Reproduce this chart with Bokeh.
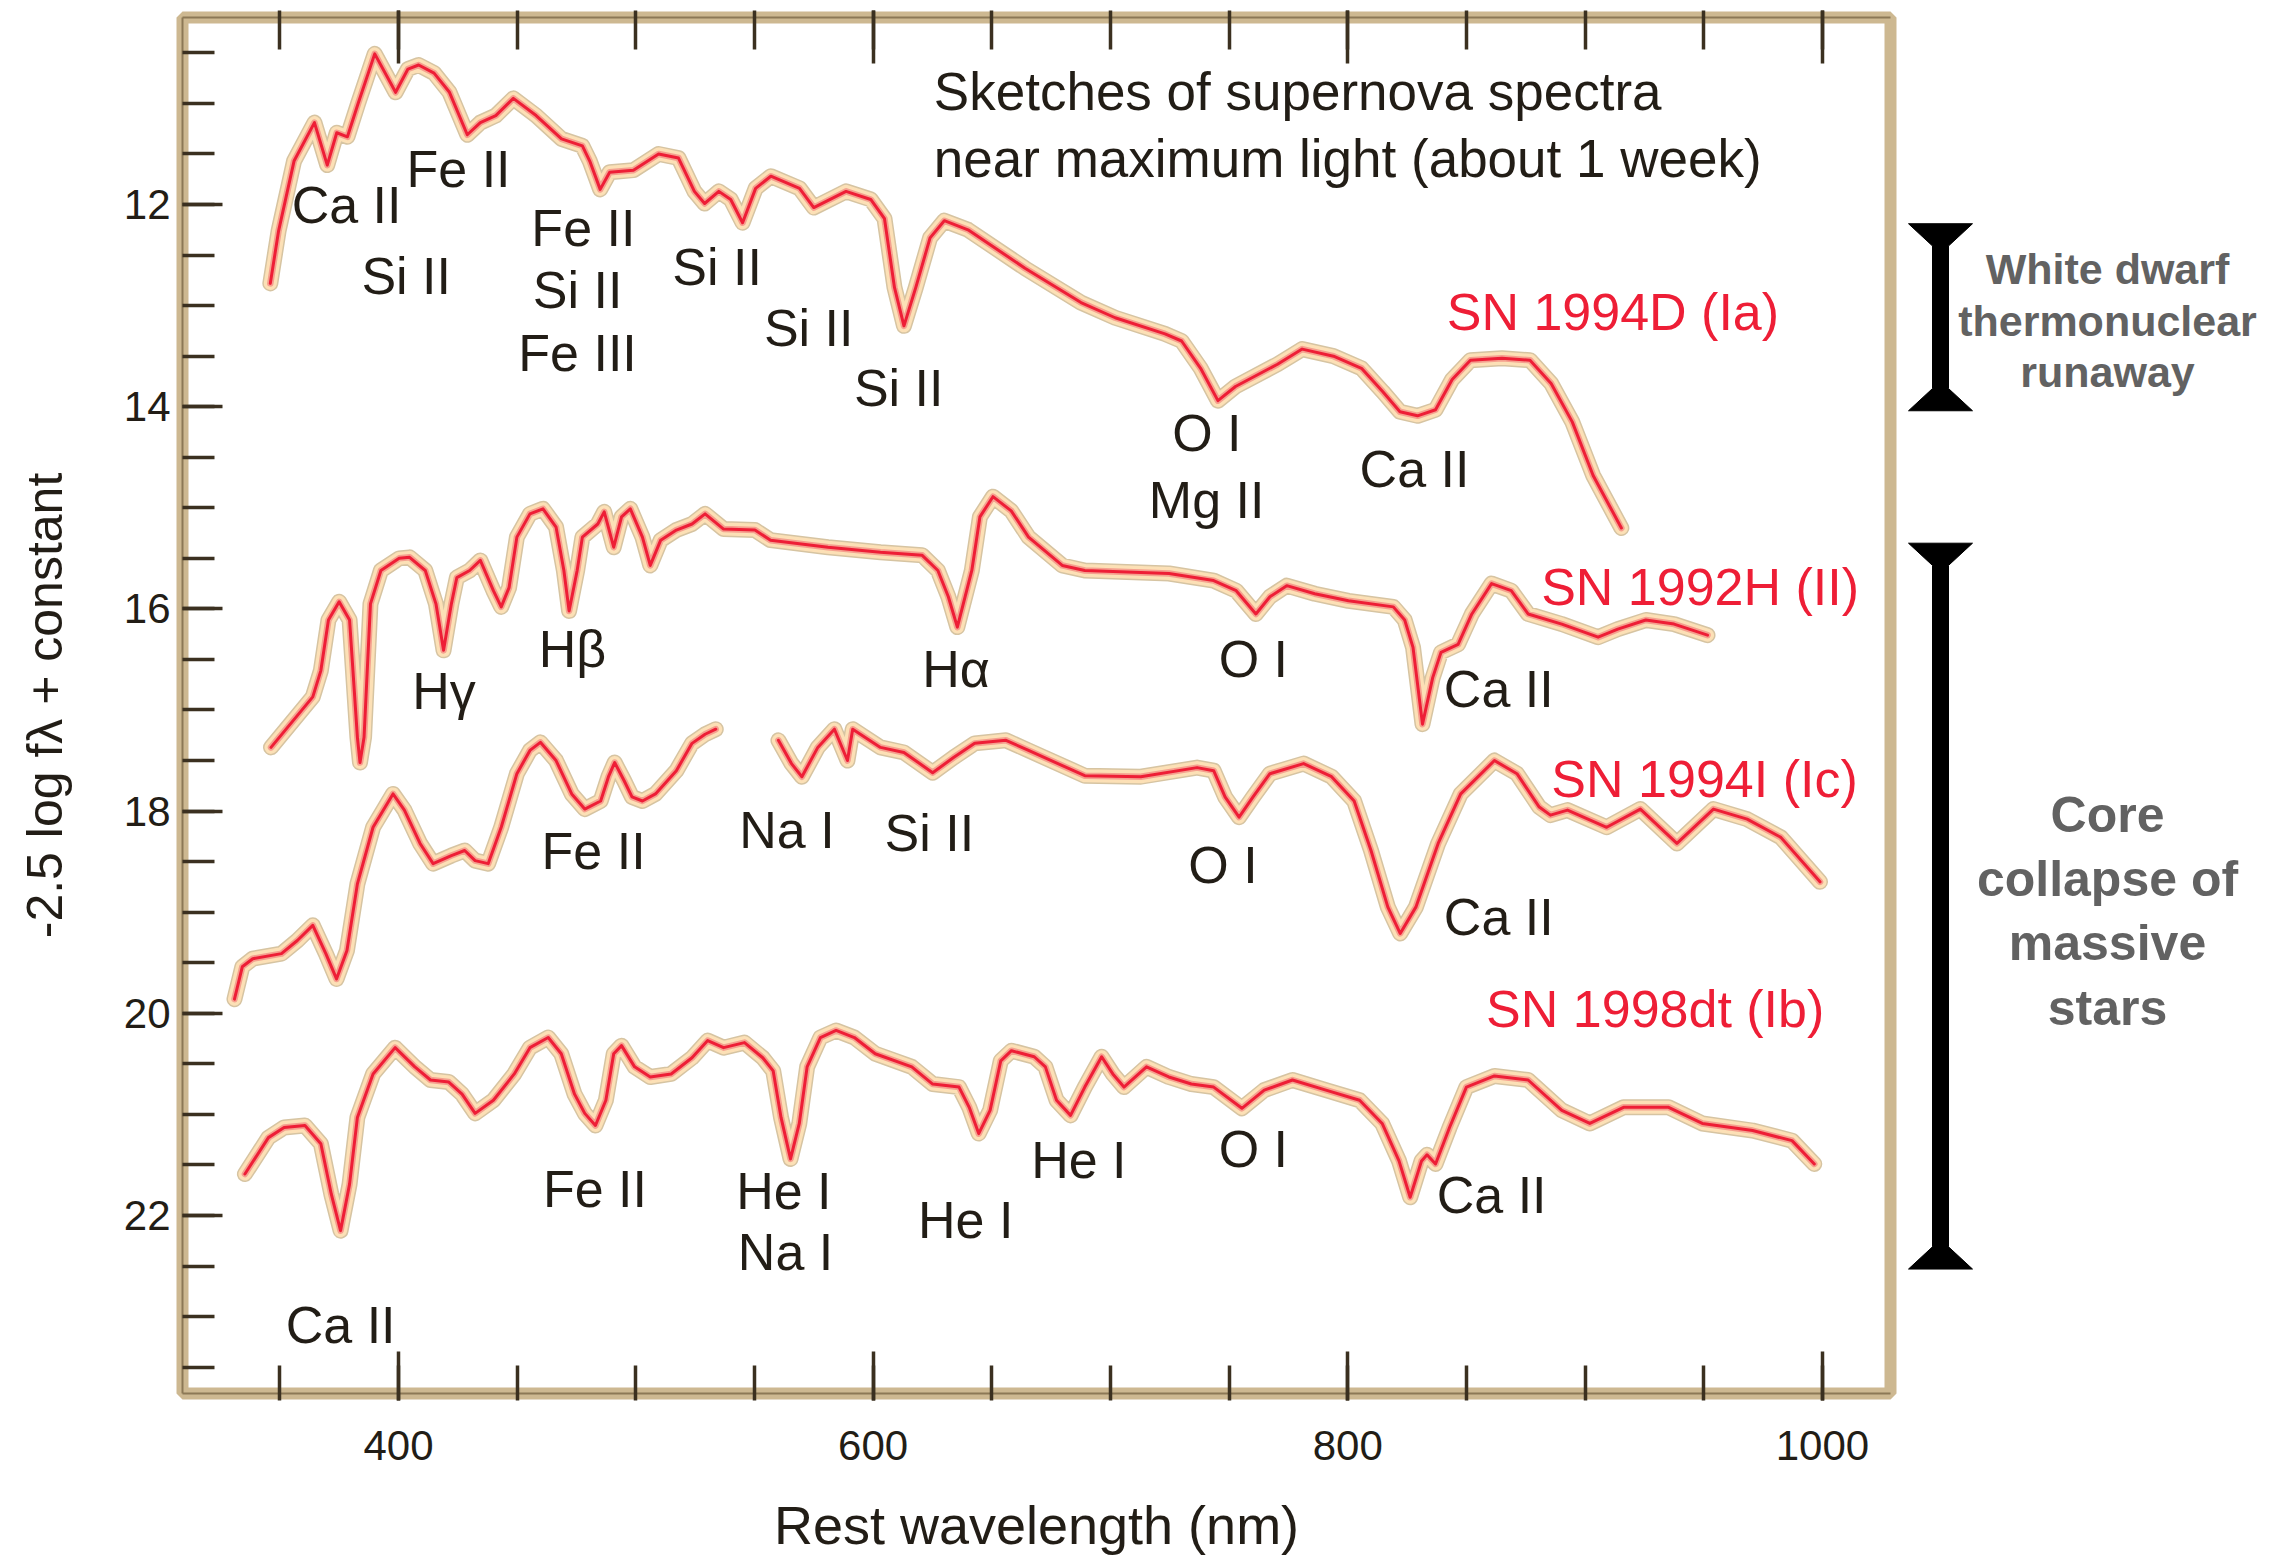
from bokeh.plotting import figure
from bokeh.models import Range1d, LinearAxis, FixedTicker
from bokeh.layouts import row
from bokeh.embed import file_html
from bokeh.resources import INLINE
from bokeh.core.properties import value

NAN = float("nan")

# ---------------- data ----------------
wl_1994D = [346.0, 349.5, 356.0, 364.6, 370.0, 374.0, 378.5, 383.0, 390.0, 398.8,
            404.0, 408.5, 415.0, 421.5, 429.0, 434.5, 441.0, 448.4, 458.0, 468.7,
            477.5, 480.6, 485.0, 489.0, 499.0, 509.6, 518.0, 524.7, 529.0, 535.0,
            540.0, 545.0, 550.5, 556.9, 569.0, 575.0, 588.6, 599.0, 604.8, 609.0,
            613.0, 618.0, 624.0, 630.0, 640.0, 664.0, 687.6, 702.0, 723.0, 730.0,
            738.0, 745.3, 752.7, 770.4, 780.8, 794.0, 805.8, 814.7, 822.0, 829.4,
            837.0, 844.0, 851.7, 865.0, 876.8, 885.7, 894.6, 903.4, 915.3]
mag_1994D = [12.78, 12.26, 11.57, 11.19, 11.61, 11.29, 11.33, 11.00, 10.51, 10.89,
             10.66, 10.62, 10.70, 10.89, 11.31, 11.19, 11.12, 10.95, 11.12, 11.35,
             11.42, 11.57, 11.85, 11.68, 11.66, 11.50, 11.54, 11.87, 11.99, 11.87,
             11.95, 12.18, 11.84, 11.72, 11.84, 12.03, 11.87, 11.95, 12.14, 12.82,
             13.20, 12.82, 12.33, 12.16, 12.25, 12.63, 12.97, 13.12, 13.28, 13.35,
             13.62, 13.94, 13.80, 13.58, 13.43, 13.50, 13.62, 13.85, 14.05, 14.09,
             14.03, 13.73, 13.54, 13.52, 13.54, 13.77, 14.15, 14.68, 15.20]

wl_1992H = [346.3, 363.9, 367.3, 370.5, 375.0, 379.4, 382.7, 383.8, 385.5, 388.2,
            392.6, 400.3, 404.7, 411.3, 415.8, 419.0, 422.3, 424.6, 430.0, 434.5,
            440.0, 443.3, 446.6, 449.9, 455.4, 460.9, 466.4, 469.7, 471.9, 475.3,
            477.5, 484.0, 486.7, 490.7, 494.0, 497.7, 502.8, 506.1, 510.5, 517.1,
            523.7, 529.2, 537.0, 550.2, 556.8, 581.0, 603.1, 620.7, 627.3, 631.7,
            635.5, 641.6, 645.0, 650.5, 658.2, 665.5, 679.7, 689.2, 724.7, 743.5,
            753.0, 761.3, 767.2, 774.3, 786.1, 800.3, 819.2, 824.0, 827.5, 831.5,
            835.8, 839.3, 846.5, 852.3, 860.6, 868.9, 876.0, 890.2, 905.5, 913.8,
            925.6, 937.5, 951.6]
mag_1992H = [17.37, 16.87, 16.61, 16.11, 15.93, 16.11, 17.27, 17.52, 17.27, 15.95,
             15.62, 15.50, 15.49, 15.62, 15.95, 16.41, 15.95, 15.69, 15.62, 15.52,
             15.82, 15.98, 15.79, 15.29, 15.06, 15.01, 15.19, 15.62, 16.02, 15.62,
             15.29, 15.16, 15.04, 15.39, 15.09, 15.01, 15.29, 15.57, 15.32, 15.22,
             15.16, 15.06, 15.21, 15.22, 15.32, 15.39, 15.44, 15.47, 15.62, 15.88,
             16.18, 15.62, 15.09, 14.89, 15.03, 15.29, 15.57, 15.62, 15.65, 15.72,
             15.82, 16.05, 15.88, 15.77, 15.85, 15.92, 15.98, 16.11, 16.38, 17.14,
             16.68, 16.43, 16.35, 16.05, 15.75, 15.82, 16.05, 16.15, 16.28, 16.20,
             16.11, 16.15, 16.26]

wl_1994I = [330.9, 334.2, 338.6, 350.7, 357.4, 363.9, 369.4, 373.9, 378.3, 382.7,
            389.3, 397.7, 402.5, 409.1, 414.6, 422.3, 427.9, 432.3, 437.8, 443.3,
            449.9, 455.4, 459.8, 466.4, 473.0, 478.5, 485.2, 488.5, 491.1, 495.1,
            498.4, 502.8, 508.3, 517.1, 523.7, 529.2, 533.7, NAN,
            560.1, 565.6, 570.0, 576.7, 583.7, 589.2, 591.4, 603.1, 613.0, 625.1,
            633.9, 642.8, 656.0, 665.5, 689.2, 712.8, 736.5, 743.5, 748.3, 754.2,
            760.1, 767.2, 781.4, 793.2, 802.7, 809.8, 816.9, 822.1, 828.7, 838.1,
            847.6, 861.8, 871.3, 880.7, 885.4, 892.6, 909.1, 923.3, 938.7, 954.1,
            968.3, 982.5, 999.0]
mag_1994I = [19.86, 19.54, 19.46, 19.41, 19.28, 19.13, 19.41, 19.66, 19.38, 18.72,
             18.16, 17.83, 17.99, 18.32, 18.52, 18.44, 18.39, 18.49, 18.52, 18.16,
             17.63, 17.40, 17.32, 17.50, 17.83, 17.98, 17.90, 17.66, 17.52, 17.70,
             17.86, 17.90, 17.83, 17.60, 17.33, 17.24, 17.19, NAN,
             17.30, 17.53, 17.66, 17.37, 17.19, 17.50, 17.19, 17.37, 17.42, 17.62,
             17.47, 17.33, 17.30, 17.40, 17.65, 17.66, 17.57, 17.60, 17.86, 18.06,
             17.86, 17.63, 17.53, 17.66, 17.90, 18.39, 18.95, 19.21, 18.95, 18.32,
             17.83, 17.50, 17.63, 17.96, 18.04, 17.99, 18.16, 17.98, 18.32, 17.98,
             18.08, 18.26, 18.70]

wl_1998dt = [335.3, 345.2, 351.8, 360.6, 367.3, 371.7, 375.6, 379.4, 382.7, 389.3,
             398.6, 406.9, 413.5, 421.2, 426.8, 432.3, 440.0, 448.8, 455.4, 463.1,
             468.6, 474.2, 478.5, 483.0, 487.4, 490.7, 494.0, 499.5, 506.1, 514.9,
             523.7, 530.3, 537.0, 545.8, 553.5, 557.9, 561.2, 565.2, 568.9, 572.2,
             577.8, 584.4, 592.1, 600.9, 616.3, 625.1, 636.2, 640.5, 644.5, 649.3,
             653.8, 658.3, 667.9, 672.6, 677.3, 683.2, 689.2, 696.3, 701.0, 705.7,
             715.2, 724.6, 734.1, 743.5, 755.4, 764.8, 776.7, 790.8, 805.0, 814.5,
             821.6, 826.3, 831.1, 833.4, 837.0, 842.9, 850.0, 861.8, 876.0, 890.2,
             902.0, 916.2, 935.2, 949.4, 970.6, 987.2, 996.6]
mag_1998dt = [21.59, 21.23, 21.13, 21.11, 21.29, 21.79, 22.15, 21.69, 21.03, 20.60,
              20.34, 20.53, 20.66, 20.68, 20.80, 20.99, 20.86, 20.60, 20.34, 20.24,
              20.40, 20.80, 20.99, 21.11, 20.86, 20.40, 20.32, 20.53, 20.63, 20.60,
              20.44, 20.27, 20.34, 20.29, 20.44, 20.57, 21.03, 21.44, 21.09, 20.53,
              20.24, 20.17, 20.24, 20.40, 20.53, 20.70, 20.73, 20.93, 21.19, 20.96,
              20.47, 20.37, 20.43, 20.53, 20.86, 21.01, 20.73, 20.43, 20.60, 20.73,
              20.53, 20.63, 20.70, 20.73, 20.94, 20.76, 20.66, 20.76, 20.86, 21.09,
              21.46, 21.82, 21.46, 21.40, 21.49, 21.13, 20.73, 20.62, 20.66, 20.96,
              21.09, 20.93, 20.93, 21.09, 21.16, 21.26, 21.49]

# spectral-line annotations: text, wavelength (left edge), magnitude (centre)
ion_text = ["Ca II", "Fe II", "Si II", "Fe II", "Si II", "Fe III", "Si II", "Si II", "Si II",
            "O I", "Mg II", "Ca II",
            "H\u03b3", "H\u03b2", "H\u03b1", "O I", "Ca II",
            "Fe II", "Na I", "Si II", "O I", "Ca II",
            "Fe II", "He I", "Na I", "He I", "He I", "O I", "Ca II", "Ca II"]
ion_x = [355.0, 403.4, 384.4, 456.0, 456.6, 450.5, 515.4, 554.0, 591.9,
         726.0, 716.2, 805.0,
         405.8, 459.1, 620.7, 745.6, 840.5,
         460.3, 543.6, 604.8, 732.8, 840.5,
         460.9, 542.3, 543.0, 618.9, 666.6, 745.6, 837.5, 352.5]
ion_y = [12.00, 11.65, 12.71, 12.23, 12.85, 13.47, 12.62, 13.22, 13.81,
         14.26, 14.92, 14.62,
         16.81, 16.40, 16.59, 16.50, 16.79,
         18.39, 18.19, 18.22, 18.53, 19.05,
         21.74, 21.76, 22.36, 22.04, 21.45, 21.34, 21.80, 23.08]

sn_names = ["SN 1994D (Ia)", "SN 1992H (II)", "SN 1994I (Ic)", "SN 1998dt (Ib)"]
sn_x = [841.7, 881.5, 885.8, 858.3]
sn_y = [13.06, 15.78, 17.68, 19.96]

title_lines = ["Sketches of supernova spectra", "near maximum light (about 1 week)"]
title_x = [625.6, 625.6]
title_y = [10.88, 11.54]

x_major = [400, 600, 800, 1000]
x_minor = [350, 400, 450, 500, 550, 600, 650, 700, 750, 800, 850, 900, 950, 1000]
y_major = [12, 14, 16, 18, 20, 22]
y_minor = [10.5, 11, 11.5, 12, 12.5, 13, 13.5, 14, 14.5, 15, 15.5, 16, 16.5, 17,
           17.5, 18, 18.5, 19, 19.5, 20, 20.5, 21, 21.5, 22, 22.5, 23, 23.5]

group_text = ["White dwarf\nthermonuclear\nrunaway", "Core\ncollapse of\nmassive\nstars"]
group_top = [12.19, 15.35]
group_bottom = [14.04, 22.53]
group_text_y = [13.15, 18.99]

# ---------------- styles ----------------
SANS = "Liberation Sans"
INK = "#221d16"
TAN = "#cdb891"
TAN_DARK = "#8c7856"
TICK = "#3b3020"
RED = "#ee1e36"

y_rng = Range1d(23.761, 10.150)

p = figure(width=1900, height=1559,
           x_range=Range1d(309.0, 1028.7), y_range=y_rng,
           output_backend="svg", toolbar_location=None,
           min_border_left=182, min_border_right=10,
           min_border_top=17, min_border_bottom=166)
p.xgrid.visible = False
p.ygrid.visible = False
p.background_fill_color = "white"
p.border_fill_color = "white"
p.outline_line_color = TAN
p.outline_line_width = 12

xt = FixedTicker(ticks=x_major, minor_ticks=x_minor)
yt = FixedTicker(ticks=y_major, minor_ticks=y_minor)


def style_axis(ax, major_in, minor_in, out):
    ax.axis_line_color = TAN_DARK
    ax.axis_line_width = 2
    ax.major_tick_in = major_in
    ax.minor_tick_in = minor_in
    ax.major_tick_out = out
    ax.minor_tick_out = out
    ax.major_tick_line_color = TICK
    ax.minor_tick_line_color = TICK
    ax.major_tick_line_width = 3.5
    ax.minor_tick_line_width = 3.5
    ax.major_label_text_font = SANS
    ax.major_label_text_font_size = "42px"
    ax.major_label_text_color = INK
    ax.axis_label_text_font = SANS
    ax.axis_label_text_font_style = "normal"
    ax.axis_label_text_color = INK


xb = p.xaxis[0]
xb.ticker = xt
style_axis(xb, 42, 28, 7)
xb.major_label_standoff = 30
xb.axis_label = "Rest wavelength (nm)"
xb.axis_label_text_font_size = "54px"
xb.axis_label_standoff = 32

yl = p.yaxis[0]
yl.ticker = yt
style_axis(yl, 40, 32, 0)
yl.major_label_standoff = 12
yl.axis_label = "-2.5 log f\u03bb + constant"
yl.axis_label_text_font_size = "50px"
yl.axis_label_standoff = 48

xtop = LinearAxis(ticker=xt)
style_axis(xtop, 46, 32, 7)
xtop.major_label_text_color = None
xtop.major_label_text_font_size = "0px"
xtop.major_label_standoff = 0
p.add_layout(xtop, "above")

# spectra with a beige glow
for wl, mg in [(wl_1994D, mag_1994D), (wl_1992H, mag_1992H),
               (wl_1994I, mag_1994I), (wl_1998dt, mag_1998dt)]:
    for col, w in [("#d6c4a2", 16), ("#fce0b6", 13), ("#f5a08f", 6.5), (RED, 3)]:
        p.line(wl, mg, line_color=col, line_width=w, line_join="round", line_cap="round")

p.text(x=ion_x, y=ion_y, text=ion_text, text_font=value(SANS), text_font_size="52px",
       text_color=INK, text_align="left", text_baseline="middle")
p.text(x=sn_x, y=sn_y, text=sn_names, text_font=value(SANS), text_font_size="52px",
       text_color=RED, text_align="left", text_baseline="middle")
p.text(x=title_x, y=title_y, text=title_lines, text_font=value(SANS), text_font_size="53px",
       text_color=INK, text_align="left", text_baseline="middle")

# ---------------- side panel with group brackets ----------------
s = figure(width=382, height=1559, x_range=Range1d(0, 382), y_range=y_rng,
           output_backend="svg", toolbar_location=None,
           min_border_left=0, min_border_right=0, min_border_top=17, min_border_bottom=166,
           x_axis_location=None, y_axis_location=None)
s.xgrid.visible = False
s.ygrid.visible = False
s.outline_line_color = None
s.background_fill_color = "white"
s.border_fill_color = "white"

cx, half_flare, half_bar, flare_h = 40, 32, 8, 0.22
bx, by = [], []
for t, b in zip(group_top, group_bottom):
    bx.append([cx - half_flare, cx + half_flare, cx + half_bar, cx + half_bar,
               cx + half_flare, cx - half_flare, cx - half_bar, cx - half_bar])
    by.append([t, t, t + flare_h, b - flare_h, b, b, b - flare_h, t + flare_h])
s.patches(bx, by, fill_color="black", line_color="black", line_width=1)

s.text(x=[207], y=[group_text_y[0]], text=[group_text[0]], text_font=value(SANS),
       text_font_style="bold", text_font_size="43px", text_color="#626262",
       text_align="center", text_baseline="middle", text_line_height=1.07)
s.text(x=[207], y=[group_text_y[1]], text=[group_text[1]], text_font=value(SANS),
       text_font_style="bold", text_font_size="50px", text_color="#626262",
       text_align="center", text_baseline="middle", text_line_height=1.15)

layout = row(p, s)
open("out.html", "w").write(file_html(layout, INLINE))
